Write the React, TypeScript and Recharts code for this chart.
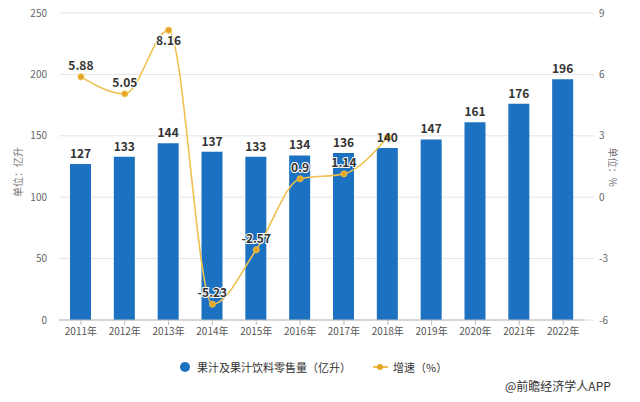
import React from 'react';
import { ComposedChart, Bar, Line, XAxis, YAxis, CartesianGrid, LabelList } from 'recharts';

const years = ['2011年', '2012年', '2013年', '2014年', '2015年', '2016年', '2017年', '2018年', '2019年', '2020年', '2021年', '2022年'];
const volume = [127, 133, 144, 137, 133, 134, 136, 140, 147, 161, 176, 196];
const growth: (number | null)[] = [5.88, 5.05, 8.16, -5.23, -2.57, 0.9, 1.14, 2.94, null, null, null, null];
const leftTicks = [0, 50, 100, 150, 200, 250];
const rightTicks = [-6, -3, 0, 3, 6, 9];

const seriesNames = ['果汁及果汁饮料零售量（亿升）', '增速（%）'];
const leftUnit = '单位：亿升';
const rightUnit = '单位：%';
const credit = '@前瞻经济学人APP';

const data = years.map((y, i) => ({ year: y, volume: volume[i], growth: growth[i] }));

const BAR = '#1c72c0';
const LINE = '#efc04d';
const DOT = '#e3a524';
const FONT = '"Noto Sans CJK SC", "Noto Sans", sans-serif';

const GrowthLabel = (props: any) => {
  const { x, y, value, index } = props;
  if (value == null || index === 7) return null;
  const below = index === 2;
  return (
    <text
      x={x}
      y={below ? y + 15 : y - 7}
      textAnchor="middle"
      fontSize={12}
      fontWeight="bold"
      fill="#333"
      stroke="#fff"
      strokeWidth={2}
      paintOrder="stroke"
      fontFamily={FONT}
    >
      {value}
    </text>
  );
};

export default function App() {
  return (
    <div style={{ position: 'absolute', left: 0, top: 0, width: 640, height: 402, background: '#fff', fontFamily: FONT }}>
      <ComposedChart
        width={640}
        height={402}
        data={data}
        margin={{ top: 13, right: 0, bottom: 60, left: 0 }}
      >
        <CartesianGrid vertical={false} stroke="#e4e4e4" yAxisId="left" />
        <XAxis
          dataKey="year"
          height={22}
          tickSize={5}
          tickMargin={3}
          axisLine={{ stroke: '#bbb' }}
          tickLine={{ stroke: '#bbb' }}
          tick={{ fontSize: 10, fill: '#555', fontFamily: FONT }}
          interval={0}
        />
        <YAxis
          yAxisId="left"
          orientation="left"
          width={59}
          domain={[0, 250]}
          ticks={leftTicks}
          axisLine={false}
          tickLine={false}
          tickMargin={6}
          tick={{ fontSize: 10, fill: '#666', fontFamily: FONT }}
        />
        <YAxis
          yAxisId="right"
          orientation="right"
          width={55}
          domain={[-6, 9]}
          ticks={rightTicks}
          axisLine={false}
          tickLine={{ stroke: '#e4e4e4' }}
          tickSize={9}
          tickMargin={5}
          tick={{ fontSize: 10, fill: '#666', fontFamily: FONT }}
        />
        <Bar yAxisId="left" dataKey="volume" fill={BAR} barSize={21} isAnimationActive={false}>
          <LabelList
            dataKey="volume"
            position="top"
            offset={6}
            fontSize={12}
            fontWeight="bold"
            fill="#333"
            fontFamily={FONT}
          />
        </Bar>
        <Line
          yAxisId="right"
          dataKey="growth"
          type="monotone"
          stroke={LINE}
          strokeWidth={1.6}
          dot={{ r: 3, fill: DOT, stroke: LINE, strokeWidth: 1 }}
          activeDot={false}
          connectNulls={false}
          isAnimationActive={false}
        >
          <LabelList dataKey="growth" content={<GrowthLabel />} />
        </Line>
      </ComposedChart>

      <div
        style={{
          position: 'absolute',
          left: 17,
          top: 172,
          transform: 'translate(-50%, -50%) rotate(-90deg)',
          fontSize: 10,
          color: '#777',
          whiteSpace: 'nowrap',
        }}
      >
        {leftUnit}
      </div>
      <div
        style={{
          position: 'absolute',
          left: 613,
          top: 167,
          transform: 'translate(-50%, -50%) rotate(90deg)',
          fontSize: 10,
          color: '#777',
          whiteSpace: 'nowrap',
        }}
      >
        {rightUnit}
      </div>

      <div style={{ position: 'absolute', left: 180, top: 358, height: 18, display: 'flex', alignItems: 'center', fontSize: 11, color: '#333', whiteSpace: 'nowrap' }}>
        <span style={{ display: 'inline-block', width: 10, height: 10, borderRadius: 5, background: BAR, marginRight: 7 }} />
        <span>{seriesNames[0]}</span>
        <span style={{ display: 'inline-block', position: 'relative', width: 15, height: 10, marginLeft: 22, marginRight: 5 }}>
          <span style={{ position: 'absolute', left: 0, top: 4, width: 15, height: 2, background: LINE }} />
          <span style={{ position: 'absolute', left: 4, top: 2, width: 6, height: 6, borderRadius: 3, background: DOT }} />
        </span>
        <span>{seriesNames[1]}</span>
      </div>

      <div style={{ position: 'absolute', left: 505, top: 377, fontSize: 12, color: '#333', whiteSpace: 'nowrap' }}>{credit}</div>
    </div>
  );
}
